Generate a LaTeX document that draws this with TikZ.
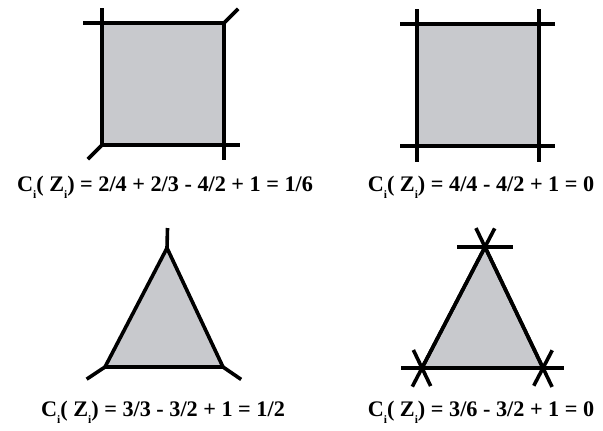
\documentclass[tikz,border=0pt]{standalone}
\usepackage{fontspec}
\setmainfont{Liberation Serif}
\usetikzlibrary{calc}
\definecolor{fillgray}{RGB}{200,201,205}
\newcommand{\subi}{\raisebox{-0.32em}{\fontsize{11.5}{11.5}\selectfont i}}
\begin{document}
\begin{tikzpicture}[x=1bp,y=-1bp,
  edge/.style={line width=3.6bp, line cap=butt},
  face/.style={fill=fillgray, draw=black, line width=3.6bp, line join=miter},
  lab/.style={font=\bfseries\fontsize{22.3}{25}\selectfont, inner sep=0pt}]
\useasboundingbox (0,0) rectangle (603,430);
% ---- square 1
\coordinate (a1) at (102,23);
\coordinate (b1) at (224,23);
\coordinate (c1) at (224,145);
\coordinate (d1) at (102,145);
\draw[face] (a1)--(b1)--(c1)--(d1)--cycle;
\draw[edge] (a1) -- ($(a1)!-19bp!(b1)$);
\draw[edge] (a1) -- ($(a1)!-15bp!(d1)$);
\draw[edge] (b1) -- ($(b1)!-20bp!(d1)$);
\draw[edge] (d1) -- ($(d1)!-20bp!(b1)$);
\draw[edge] (c1) -- ($(c1)!-16bp!(d1)$);
\draw[edge] (c1) -- ($(c1)!-15bp!(b1)$);
\node[lab] (l1) at (165,187) {C\subi( Z\subi) = 2/4 + 2/3 - 4/2 + 1 = 1/6};
% ---- square 2
\coordinate (a2) at (417,24);
\coordinate (b2) at (539,24);
\coordinate (c2) at (539,146);
\coordinate (d2) at (417,146);
\draw[face] (a2)--(b2)--(c2)--(d2)--cycle;
\draw[edge] ($(a2)!-17bp!(b2)$) -- ($(b2)!-16bp!(a2)$);
\draw[edge] ($(d2)!-17bp!(c2)$) -- ($(c2)!-16bp!(d2)$);
\draw[edge] ($(a2)!-15bp!(d2)$) -- ($(d2)!-16bp!(a2)$);
\draw[edge] ($(b2)!-15bp!(c2)$) -- ($(c2)!-16bp!(b2)$);
\node[lab] (l2) at (481,187) {C\subi( Z\subi) = 4/4 - 4/2 + 1 = 0};
% ---- triangle 1
\coordinate (p1) at (167,248);
\coordinate (q1) at (105,367);
\coordinate (r1) at (223,367);
\coordinate (m1) at ($(q1)!0.5!(r1)$);
\coordinate (mq1) at ($(p1)!0.5!(r1)$);
\coordinate (mr1) at ($(p1)!0.5!(q1)$);
\draw[face] (p1)--(q1)--(r1)--cycle;
\draw[edge] (p1) -- ($(p1)!-20bp!(m1)$);
\draw[edge] (q1) -- ($(q1)!-22bp!(mq1)$);
\draw[edge] (r1) -- ($(r1)!-22bp!(mr1)$);
\node[lab] (l3) at (163,412) {C\subi( Z\subi) = 3/3 - 3/2 + 1 = 1/2};
% ---- triangle 2
\coordinate (p2) at (485,247);
\coordinate (q2) at (422,368);
\coordinate (r2) at (543,368);
\coordinate (pa) at ($(p2)+(30,0)$);
\coordinate (qa) at ($(q2)+(r2)-(p2)$);
\coordinate (ra) at ($(r2)+(q2)-(p2)$);
\draw[face] (p2)--(q2)--(r2)--cycle;
% edges extended through each vertex
\draw[edge] ($(q2)!-21bp!(p2)$) -- ($(p2)!-21bp!(q2)$);
\draw[edge] ($(r2)!-21bp!(p2)$) -- ($(p2)!-21bp!(r2)$);
\draw[edge] ($(q2)!-21bp!(r2)$) -- ($(r2)!-21bp!(q2)$);
% third direction through each vertex
\draw[edge] ($(p2)!-28bp!(pa)$) -- ($(p2)!28bp!(pa)$);
\draw[edge] ($(q2)!-20bp!(qa)$) -- ($(q2)!20bp!(qa)$);
\draw[edge] ($(r2)!-20bp!(ra)$) -- ($(r2)!20bp!(ra)$);
\node[lab] (l4) at (481,412) {C\subi( Z\subi) = 3/6 - 3/2 + 1 = 0};
\end{tikzpicture}
\end{document}
